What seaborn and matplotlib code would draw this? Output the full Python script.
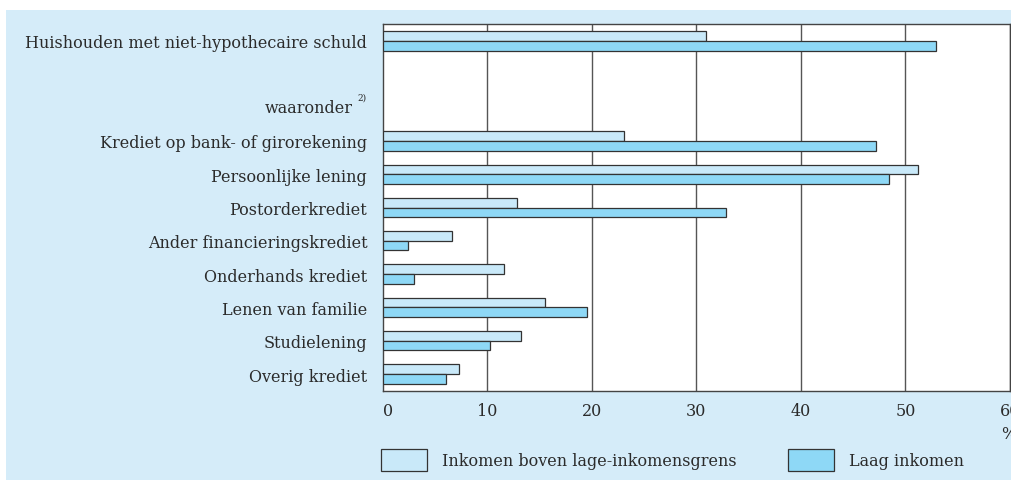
import pandas as pd
import matplotlib.pyplot as plt
import seaborn as sns
from matplotlib.patches import Patch, Rectangle

# Data (percentages)
categories = [
    "Huishouden met niet-hypothecaire schuld",
    " ",
    "waaronder",
    "Krediet op bank- of girorekening",
    "Persoonlijke lening",
    "Postorderkrediet",
    "Ander financieringskrediet",
    "Onderhands krediet",
    "Lenen van familie",
    "Studielening",
    "Overig krediet",
]
boven_grens = [30.9, None, None, 23.1, 51.2, 12.9, 6.6, 11.6, 15.5, 13.2, 7.3]
laag_inkomen = [52.9, None, None, 47.2, 48.4, 32.8, 2.4, 3.0, 19.6, 10.3, 6.1]
series_names = ["Inkomen boven lage-inkomensgrens", "Laag inkomen"]
x_ticks = [0, 10, 20, 30, 40, 50, 60]

bg_color = "#d5ecf9"
light_blue = "#c9e9f9"
dark_blue = "#8ed8f6"
edge = "#333333"
text_color = "#2b2b2b"
fs = 11.5

sns.set_theme(style="white")
plt.rcParams["font.family"] = ["DejaVu Serif"]
plt.rcParams["text.color"] = text_color
plt.rcParams["xtick.color"] = text_color
plt.rcParams["ytick.color"] = text_color

df = pd.DataFrame({
    "categorie": categories * 2,
    "waarde": boven_grens + laag_inkomen,
    "groep": [series_names[0]] * len(categories) + [series_names[1]] * len(categories),
})

fig = plt.figure(figsize=(10.11, 4.81), dpi=100)
fig.patch.set_facecolor("white")
fig.patches.append(Rectangle((6 / 1011, 0), 1, 470 / 481, transform=fig.transFigure,
                             facecolor=bg_color, edgecolor="none", zorder=-5))

ax = fig.add_axes([382.5 / 1011, 89.3 / 481, 627.5 / 1011, 366.4 / 481])
ax.set_facecolor("white")

sns.barplot(data=df, y="categorie", x="waarde", hue="groep", order=categories,
            hue_order=series_names, palette=[light_blue, dark_blue], saturation=1,
            orient="h", width=0.58, edgecolor=edge, linewidth=0.9, legend=False,
            ax=ax, zorder=3)

ax.set_xlim(0, 60)
ax.set_ylim(10.5, -0.5)
ax.set_xticks(x_ticks)
ax.set_xticklabels([str(t) for t in x_ticks], fontsize=fs)
ax.get_xticklabels()[0].set_horizontalalignment("left")
ax.tick_params(axis="x", length=0, pad=8)
ax.tick_params(axis="y", length=0, pad=11, labelsize=fs)
ax.set_xlabel("")
ax.set_ylabel("")

for x in x_ticks[1:]:
    ax.axvline(x, color="#555555", linewidth=1.0, zorder=1)
for side in ["top", "left", "bottom", "right"]:
    ax.spines[side].set_color("#444444")
    ax.spines[side].set_linewidth(1.0)

# "waaronder" with its footnote marker, drawn as separate texts
labels = [t.get_text() for t in ax.get_yticklabels()]
labels[2] = ""
ax.set_yticklabels(labels)
ax.annotate("waaronder", xy=(0, 2), xycoords=("axes fraction", "data"), xytext=(-21.5, 0),
            textcoords="offset points", fontsize=fs, ha="right", va="center")
ax.annotate("2)", xy=(0, 2), xycoords=("axes fraction", "data"), xytext=(-17.8, 7.5),
            textcoords="offset points", fontsize=6.5, ha="left", va="center")

ax.text(0.9855, -0.118, "%", transform=ax.transAxes, fontsize=fs, ha="left", va="center")

handles = [Patch(facecolor=light_blue, edgecolor=edge, linewidth=0.9),
           Patch(facecolor=dark_blue, edgecolor=edge, linewidth=0.9)]
fig.legend(handles, series_names, loc="center left", bbox_to_anchor=(381 / 1011, 20 / 481),
           ncol=2, frameon=False, fontsize=fs, handlelength=2.85, handleheight=1.7,
           handletextpad=0.95, columnspacing=3.25, borderpad=0, borderaxespad=0)

fig.savefig("out.png", dpi=100)
